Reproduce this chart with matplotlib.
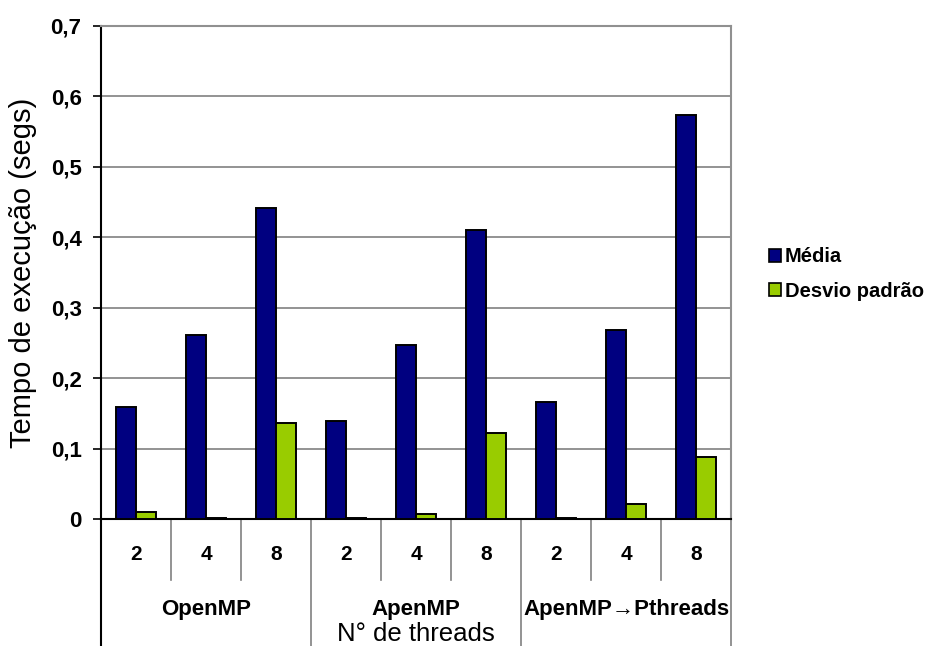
import matplotlib
matplotlib.use("Agg")
import matplotlib.pyplot as plt
import matplotlib.transforms as mtransforms
from matplotlib.patches import Patch
import numpy as np

plt.rcParams['font.family'] = ['Liberation Sans', 'DejaVu Sans']

# data
groups = ['OpenMP', 'ApenMP', 'ApenMP\u2192Pthreads']
threads = ['2', '4', '8']
media = [0.159, 0.261, 0.442, 0.139, 0.247, 0.410, 0.166, 0.268, 0.574]
desvio = [0.010, 0.002, 0.136, 0.001, 0.007, 0.122, 0.001, 0.021, 0.088]
series_names = ['Média', 'Desvio padrão']
yticks = [0, 0.1, 0.2, 0.3, 0.4, 0.5, 0.6, 0.7]
ytick_labels = ['0', '0,1', '0,2', '0,3', '0,4', '0,5', '0,6', '0,7']

blue = '#000080'
green = '#99CC00'

fig = plt.figure(figsize=(9.3, 6.46), dpi=100)
ax = fig.add_axes([101/930, 1 - 519/646, 630/930, 493/646])

n = len(media)
x = np.arange(n)
w = 0.29
ax.bar(x + 0.21 + w/2, media, w, color=blue, edgecolor='black', linewidth=1.4, zorder=3)
ax.bar(x + 0.5 + w/2, desvio, w, color=green, edgecolor='black', linewidth=1.4, zorder=3)

ax.set_xlim(0, n)
ax.set_ylim(0, 0.7)
ax.set_yticks(yticks)
ax.set_yticklabels(ytick_labels, fontsize=16, fontweight='bold')
ax.tick_params(axis='y', direction='out', length=6, width=1.2, pad=8)
ax.set_xticks([])
ax.yaxis.grid(True, color='#808080', linewidth=1.2, zorder=0)

for s in ['top', 'right']:
    ax.spines[s].set_color('#909090')
    ax.spines[s].set_linewidth(1.5)
ax.spines['left'].set_linewidth(1.5)
ax.spines['bottom'].set_linewidth(1.5)
ax.spines['left'].set_color('black')

ax.set_ylabel('Tempo de execução (segs)', fontsize=21, labelpad=10)

# category axis below plot
trans = mtransforms.blended_transform_factory(ax.transData, ax.transAxes)
cat_depth = -61/493
grp_depth = -130/493
for i in range(n + 1):
    depth = grp_depth if i % 3 == 0 else cat_depth
    color = 'black' if i == 0 else '#808080'
    ax.plot([i, i], [0, depth], transform=trans, color=color,
            linewidth=1.5 if i == 0 else 1.2, clip_on=False)
for i in range(n):
    ax.text(i + 0.5, -36/493, threads[i % 3], transform=trans, ha='center', va='center',
            fontsize=15, fontweight='bold')
for g, name in enumerate(groups):
    ax.text(g*3 + 1.5, -91/493, name, transform=trans, ha='center', va='center',
            fontsize=16, fontweight='bold')

fig.text(416/930, 1 - 634/646, 'N° de threads', ha='center', va='center', fontsize=18.5)

handles = [Patch(facecolor=blue, edgecolor='black', linewidth=1.2),
           Patch(facecolor=green, edgecolor='black', linewidth=1.2)]
fig.legend(handles, series_names, loc='center left',
           bbox_to_anchor=(769/930, 1 - 274/646), frameon=False,
           prop={'size': 14.5, 'weight': 'bold'},
           handlelength=0.6, handleheight=0.6, handletextpad=0.2,
           labelspacing=0.75, borderaxespad=0, borderpad=0)

fig.savefig('out.png', dpi=100)
